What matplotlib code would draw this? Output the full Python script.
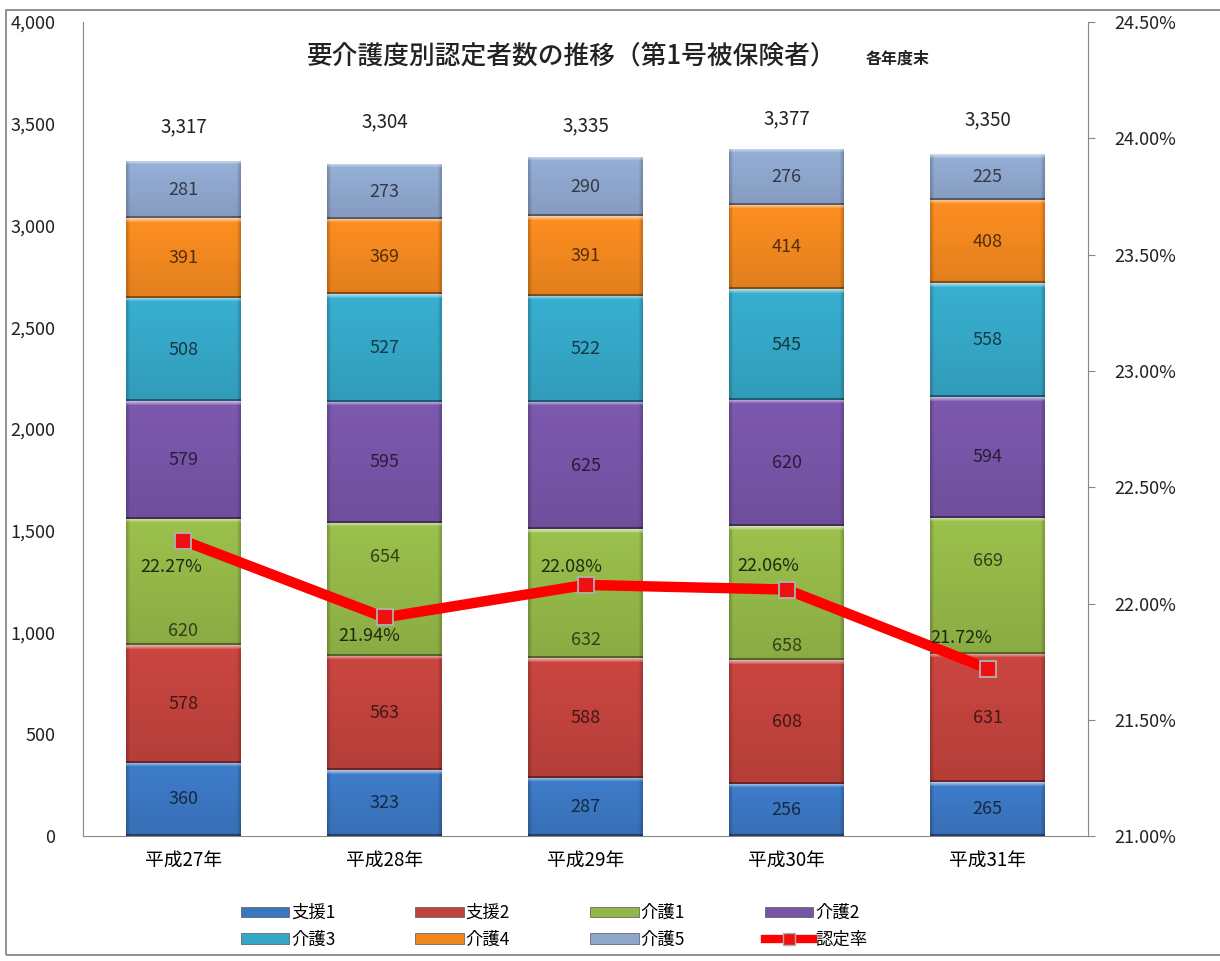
import numpy as np
import matplotlib
matplotlib.use("Agg")
import matplotlib.pyplot as plt
from matplotlib.patches import Patch, Rectangle
from matplotlib.lines import Line2D
from matplotlib.colors import to_rgb
from matplotlib.ticker import FuncFormatter, MultipleLocator

plt.rcParams['font.family'] = ['Noto Sans CJK JP', 'DejaVu Sans']

# data
years = ['平成27年', '平成28年', '平成29年', '平成30年', '平成31年']
series_names = ['支援1', '支援2', '介護1', '介護2', '介護3', '介護4', '介護5']
shien1 = [360, 323, 287, 256, 265]
shien2 = [578, 563, 588, 608, 631]
kaigo1 = [620, 654, 632, 658, 669]
kaigo2 = [579, 595, 625, 620, 594]
kaigo3 = [508, 527, 522, 545, 558]
kaigo4 = [391, 369, 391, 414, 408]
kaigo5 = [281, 273, 290, 276, 225]
totals = [3317, 3304, 3335, 3377, 3350]
rate = [22.27, 21.94, 22.08, 22.06, 21.72]

colors = ['#3b76c0', '#c0423d', '#93b648', '#7654a6', '#35a6c6', '#f0871f', '#8ea6cc']
stack = [shien1, shien2, kaigo1, kaigo2, kaigo3, kaigo4, kaigo5]
# labels in the 介護1 segment were moved by hand (fraction of segment height)
label_frac = {2: [0.11, 0.74, 0.14, 0.11, 0.68]}
rate_offsets = [(-9, -19), (-11, -13), (-10, 13), (-13, 17), (-19, 22)]
total_offsets = [25, 30, 23, 22, 25]

AX_H_PX = 814.0
BAR_W_PX = 115


def bevel_image(color, h_px):
    # excel-like bevel: light strip on top, darker sides and bottom line
    base = np.array(to_rgb(color))
    ny = max(int(round(h_px)), 6)
    nx = BAR_W_PX
    rows = np.arange(ny)
    cols = np.arange(nx)
    fy = 1.06 - 0.12 * rows / (ny - 1)
    img = np.ones((ny, nx, 3)) * base * fy[:, None, None]
    edge = np.minimum(cols, nx - 1 - cols)
    fx = np.where(edge < 4, 0.80 + 0.05 * edge, 1.0)
    img = img * fx[None, :, None]
    for r, a in zip(range(4), [0.55, 0.42, 0.3, 0.15]):
        img[r] = img[r] * (1 - a) + a
    img[-2:] = img[-2:] * 0.6
    return np.clip(img, 0, 1)


def dark(color, f=0.35):
    return tuple(np.array(to_rgb(color)) * f)


fig = plt.figure(figsize=(12.2, 9.61), dpi=100)
fig.patches.append(Rectangle((0.005, 0.006), 1.0, 0.984, transform=fig.transFigure,
                             fill=False, edgecolor='#888888', linewidth=1.3))
ax = fig.add_axes([0.068, 0.130, 0.824, 0.847])
ax2 = ax.twinx()

x = np.arange(len(years))
width = 0.57
bottom = np.zeros(len(years))
for k, (vals, c) in enumerate(zip(stack, colors)):
    bars = ax.bar(x, vals, width, bottom=bottom, color=c, edgecolor='none', zorder=2)
    fracs = label_frac.get(k, [0.5] * len(vals))
    for b, v, bt, fr in zip(bars, vals, bottom, fracs):
        img = bevel_image(c, v * AX_H_PX / 4000)
        im = ax.imshow(img, extent=(b.get_x(), b.get_x() + b.get_width(), bt, bt + v),
                       aspect='auto', zorder=3, interpolation='bilinear')
        im.set_clip_path(b)
        ax.text(b.get_x() + b.get_width() / 2, bt + v * fr, f'{v}', ha='center', va='center',
                fontsize=13, color=dark(c), zorder=5)
    bottom += np.array(vals)

for xi, t, off in zip(x, totals, total_offsets):
    ax.annotate(f'{t:,}', (xi, t), xytext=(0, off), textcoords='offset points',
                ha='center', va='center', fontsize=13.5, color='#222222')

ax.set_xlim(-0.5, 4.5)
ax.set_ylim(0, 4000)
ax.yaxis.set_major_locator(MultipleLocator(500))
ax.yaxis.set_major_formatter(FuncFormatter(lambda v, p: f'{int(v):,}'))
ax.set_xticks(x)
ax.set_xticklabels(years, fontsize=13.5)
ax.tick_params(axis='x', length=0, pad=10)
ax.tick_params(axis='y', length=0, pad=20, labelsize=13, labelcolor='#222222')
for s in ['top', 'right']:
    ax.spines[s].set_visible(False)
ax.spines['left'].set_color('#888888')
ax.spines['bottom'].set_color('#888888')

# rate line
ax2.plot(x, rate, color='#ff0000', linewidth=7.5, zorder=6, solid_capstyle='round',
         marker='s', markersize=11.5, markerfacecolor='#ee1111', markeredgecolor='#b0b0b0',
         markeredgewidth=1.3)
ax2.set_ylim(21.0, 24.5)
ax2.yaxis.set_major_locator(MultipleLocator(0.5))
ax2.yaxis.set_major_formatter(FuncFormatter(lambda v, p: f'{v:.2f}%'))
ax2.tick_params(axis='y', length=5, color='#888888', pad=14, labelsize=13, labelcolor='#222222')
for s in ['top', 'left', 'bottom']:
    ax2.spines[s].set_visible(False)
ax2.spines['right'].set_color('#888888')

for xi, r, off in zip(x, rate, rate_offsets):
    ax2.annotate(f'{r:.2f}%', (xi, r), xytext=off, textcoords='offset points',
                 ha='center', va='center', fontsize=13, color='#1e2a10', zorder=7)

ax.set_zorder(1)
ax2.set_zorder(2)
ax2.patch.set_visible(False)

# title
fig.text(0.469, 0.942, '要介護度別認定者数の推移（第1号被保険者）', ha='center', va='center',
         fontsize=18.5, fontweight='medium', color='#222222')
fig.text(0.736, 0.939, '各年度末', ha='center', va='center', fontsize=11.5,
         fontweight='bold', color='#222222')

# legend
handles = [Patch(facecolor=c, edgecolor='#555555', linewidth=0.5) for c in colors]
handles.append(Line2D([0], [0], color='#ff0000', linewidth=6, marker='s', markersize=9,
                      markerfacecolor='#ee1111', markeredgecolor='#b0b0b0'))
labels = series_names + ['認定率']
order = [0, 4, 1, 5, 2, 6, 3, 7]
leg = fig.legend([handles[i] for i in order], [labels[i] for i in order], ncol=4,
                 loc='center', bbox_to_anchor=(0.454, 0.036), frameon=False,
                 fontsize=12.5, handlelength=2.8, handleheight=0.55, handletextpad=0.1,
                 columnspacing=4.6, labelspacing=0.5)

fig.savefig('out.png', dpi=100)
